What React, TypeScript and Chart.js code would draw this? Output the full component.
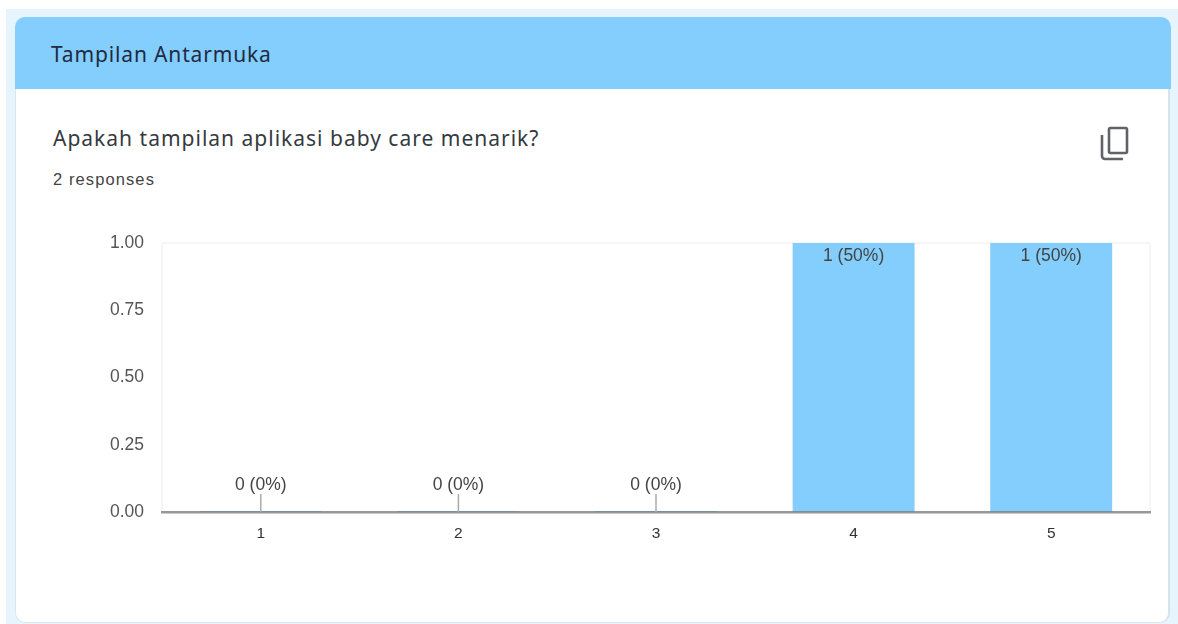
import React, { useEffect, useRef } from "react";
import { Chart, registerables } from "chart.js";

Chart.register(...registerables);

const categories = ["1", "2", "3", "4", "5"];
const responses = [0, 0, 0, 1, 1];
const dataLabels = ["0 (0%)", "0 (0%)", "0 (0%)", "1 (50%)", "1 (50%)"];
const yTicks = [0, 0.25, 0.5, 0.75, 1];

const sectionTitle = "Tampilan Antarmuka";
const questionTitle = "Apakah tampilan aplikasi baby care menarik?";
const responseCount = "2 responses";

const UI_FONT = "'Noto Sans', sans-serif";
const CHART_FONT = "'Liberation Sans', Arial, sans-serif";

const frame = {
  id: "frame",
  beforeDatasetsDraw(chart: any) {
    const { ctx, chartArea: a } = chart;
    ctx.save();
    ctx.strokeStyle = "#eeeeee";
    ctx.lineWidth = 1;
    ctx.strokeRect(a.left, a.top, a.right - a.left, a.bottom - a.top);
    ctx.restore();
  },
};

const valueLabels = {
  id: "valueLabels",
  afterDraw(chart: any) {
    const { ctx } = chart;
    const meta = chart.getDatasetMeta(0);
    const yScale = chart.scales.y;
    ctx.save();
    ctx.font = `17.5px ${CHART_FONT}`;
    ctx.textAlign = "center";
    ctx.textBaseline = "middle";
    meta.data.forEach((bar: any, i: number) => {
      const v = responses[i];
      const py = yScale.getPixelForValue(v);
      if (v === 0) {
        ctx.strokeStyle = "#aaaaaa";
        ctx.lineWidth = 1.5;
        ctx.beginPath();
        ctx.moveTo(bar.x, py);
        ctx.lineTo(bar.x, py - 18);
        ctx.stroke();
        ctx.fillStyle = "#444444";
        ctx.fillText(dataLabels[i], bar.x, py - 27);
      } else {
        ctx.fillStyle = "#444444";
        ctx.fillText(dataLabels[i], bar.x, py + 13);
      }
    });
    ctx.restore();
  },
};

export default function App() {
  const ref = useRef<HTMLCanvasElement | null>(null);

  useEffect(() => {
    document.body.style.margin = "0";
    document.body.style.background = "#ffffff";
    if (!ref.current) return;
    const chart = new Chart(ref.current, {
      type: "bar",
      data: {
        labels: categories,
        datasets: [
          {
            data: responses,
            backgroundColor: "#83cefc",
            borderWidth: 0,
            categoryPercentage: 1,
            barPercentage: 0.617,
            minBarLength: 1,
          },
        ],
      },
      options: {
        animation: false,
        responsive: false,
        layout: { padding: { left: 0, top: 243, right: 28, bottom: 0 } },
        plugins: { legend: { display: false }, tooltip: { enabled: false } },
        scales: {
          x: {
            afterFit: (s: any) => {
              s.height = 112;
            },
            grid: { display: false, drawTicks: false },
            border: { color: "rgba(120,120,120,0.75)", width: 2.5, z: 1 },
            ticks: {
              color: "#333333",
              padding: 12,
              font: { family: CHART_FONT, size: 15.5 },
            },
          },
          y: {
            min: 0,
            max: 1,
            afterFit: (s: any) => {
              s.width = 162;
            },
            afterBuildTicks: (s: any) => {
              s.ticks = yTicks.map((value) => ({ value }));
            },
            grid: { display: false, drawTicks: false },
            border: { display: false },
            ticks: {
              color: "#555555",
              padding: 18,
              font: { family: CHART_FONT, size: 17.5 },
              callback: (v: any) => Number(v).toFixed(2),
            },
          },
        },
      },
      plugins: [frame, valueLabels],
    } as any);
    return () => chart.destroy();
  }, []);

  return (
    <div style={{ position: "fixed", left: 0, top: 0, width: 1178, height: 624, overflow: "hidden", background: "#fff", filter: "blur(0.45px)" }}>
      <div style={{ position: "absolute", left: 6, top: 9, width: 1172, height: 615, background: "#e6f4fe" }} />
      <div
        style={{
          position: "absolute",
          left: 15,
          top: 17,
          width: 1155,
          height: 606,
          background: "#fff",
          borderRadius: 10,
          boxSizing: "border-box",
          borderRight: "2px solid #d9e2e8",
          borderLeft: "1px solid #dfe6ea",
          borderBottom: "1px solid #dfe6ea",
        }}
      />
      <div style={{ position: "absolute", left: 15, top: 17, width: 1156, height: 72, background: "#83cefc", borderRadius: "10px 10px 0 0" }} />
      <div style={{ position: "absolute", left: 51, top: 40, font: `21px ${UI_FONT}`, letterSpacing: "0.85px", color: "#1f2a44", lineHeight: "28px", whiteSpace: "nowrap" }}>
        {sectionTitle}
      </div>
      <div style={{ position: "absolute", left: 53, top: 124, font: `21px ${UI_FONT}`, letterSpacing: "1px", color: "#333a40", lineHeight: "28px", whiteSpace: "nowrap" }}>
        {questionTitle}
      </div>
      <div style={{ position: "absolute", left: 53, top: 169, font: `16.5px ${CHART_FONT}`, letterSpacing: "1.1px", color: "#444", lineHeight: "20px", whiteSpace: "nowrap" }}>
        {responseCount}
      </div>
      <svg style={{ position: "absolute", left: 1095, top: 122 }} width={40} height={44} viewBox="0 0 40 44" fill="none" stroke="#5f6368" strokeWidth={2.6}>
        <rect x={14} y={6} width={18} height={25} rx={1.5} />
        <path d="M7 13 V34 a3 3 0 0 0 3 3 H28" />
      </svg>
      <canvas ref={ref} width={1178} height={624} style={{ position: "absolute", left: 0, top: 0, display: "block" }} />
    </div>
  );
}
